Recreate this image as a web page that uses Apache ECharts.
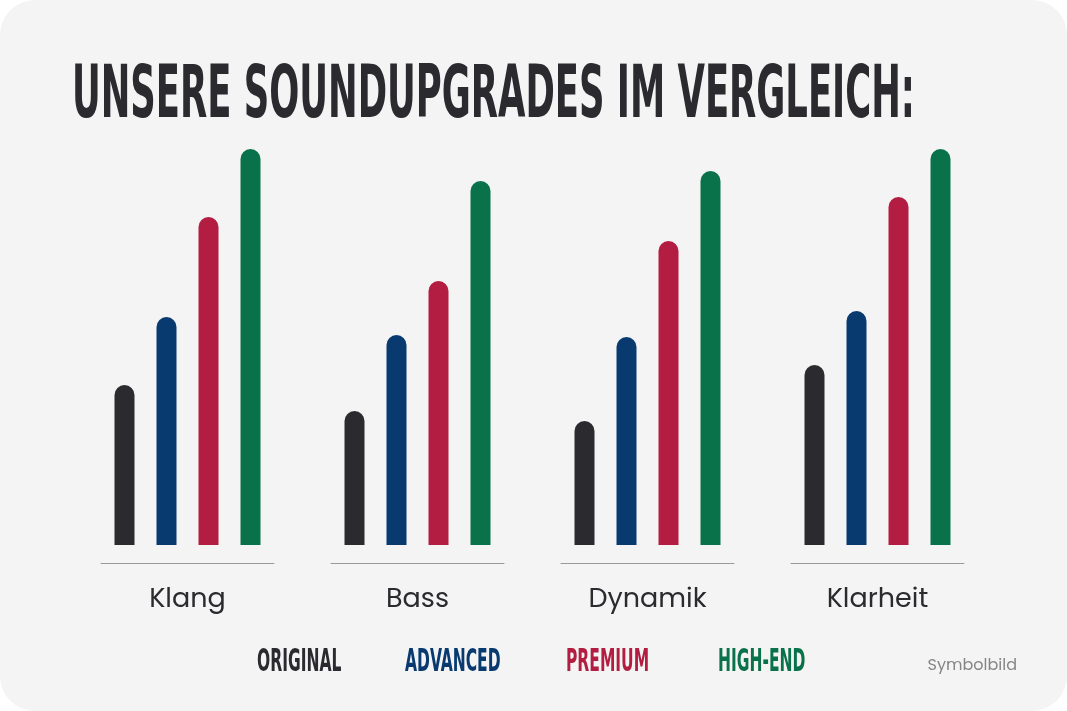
<!DOCTYPE html>
<html>
<head>
<meta charset="utf-8">
<script src="https://cdn.jsdelivr.net/npm/echarts@6/dist/echarts.min.js"></script>
<style>
html,body{margin:0;padding:0;background:#ffffff;}
#chart{width:1067px;height:711px;}
</style>
</head>
<body>
<div id="chart"></div>
<script>
const categories = ['Klang', 'Bass', 'Dynamik', 'Klarheit'];
const seriesNames = ['ORIGINAL', 'ADVANCED', 'PREMIUM', 'HIGH-END'];
const original = [40, 33.5, 31, 45];
const advanced = [57, 52.5, 52, 58.5];
const premium  = [82, 66, 76, 87];
const highEnd  = [99, 91, 93.5, 99];
const titleText = 'UNSERE SOUNDUPGRADES IM VERGLEICH:';
const noteText = 'Symbolbild';

const values = [original, advanced, premium, highEnd];
const colors = ['#2a2a2f', '#083a70', '#b31d41', '#09724a'];
const condFont = '"Liberation Sans Narrow", "DejaVu Sans Condensed", "DejaVu Sans", sans-serif';
const bodyFont = 'Poppins, Inter, "Noto Sans", sans-serif';

function measure(text, font) {
  const c = document.createElement('canvas').getContext('2d');
  c.font = font;
  return c.measureText(text).width;
}
const titleFont = 'bold 73px ' + condFont;
const titleScale = 843 / measure(titleText, titleFont);
const legendFont = 'bold 32px ' + condFont;

const grids = [], xAxes = [], yAxes = [], series = [];
categories.forEach((cat, i) => {
  grids.push({ left: 101 + 230 * i, width: 173, top: 145, bottom: 166 });
  xAxes.push({
    gridIndex: i, type: 'category', data: [cat], offset: 18,
    axisLine: { show: true, onZero: false, lineStyle: { color: '#9a9a9a', width: 1 } },
    axisTick: { show: false },
    axisLabel: { color: '#2a2a2f', fontSize: 27, fontFamily: bodyFont, margin: 24 }
  });
  yAxes.push({ gridIndex: i, type: 'value', min: 0, max: 100, show: false, splitLine: { show: false } });
  seriesNames.forEach((n, k) => {
    series.push({
      type: 'bar', name: n, xAxisIndex: i, yAxisIndex: i,
      data: [values[k][i]], barWidth: 20, barGap: '110%',
      itemStyle: { color: colors[k], borderRadius: [10, 10, 0, 0] },
      silent: true
    });
  });
});

const legendX = [257, 405, 566, 718];
const graphics = [
  { type: 'rect', z: -10, shape: { x: 0, y: 0, width: 1067, height: 711, r: 35 }, style: { fill: '#f4f4f4' } },
  { type: 'text', x: 72, y: 98, scaleX: titleScale, scaleY: 1,
    style: { x: 0, y: 0, text: titleText, font: titleFont, fill: '#2a2a2f', textAlign: 'left', textVerticalAlign: 'middle' } },
  { type: 'text', x: 1017, y: 666,
    style: { text: noteText, font: '16px ' + bodyFont, fill: '#858585', textAlign: 'right', textVerticalAlign: 'middle' } }
];
seriesNames.forEach((n, k) => {
  graphics.push({ type: 'text', x: legendX[k], y: 663, scaleX: titleScale, scaleY: 1,
    style: { x: 0, y: 0, text: n, font: legendFont, fill: colors[k], textAlign: 'left', textVerticalAlign: 'middle' } });
});

const chart = echarts.init(document.getElementById('chart'), null, { renderer: 'canvas' });
chart.setOption({
  backgroundColor: 'transparent',
  animation: false,
  grid: grids, xAxis: xAxes, yAxis: yAxes, series: series,
  graphic: graphics
});
</script>
</body>
</html>
